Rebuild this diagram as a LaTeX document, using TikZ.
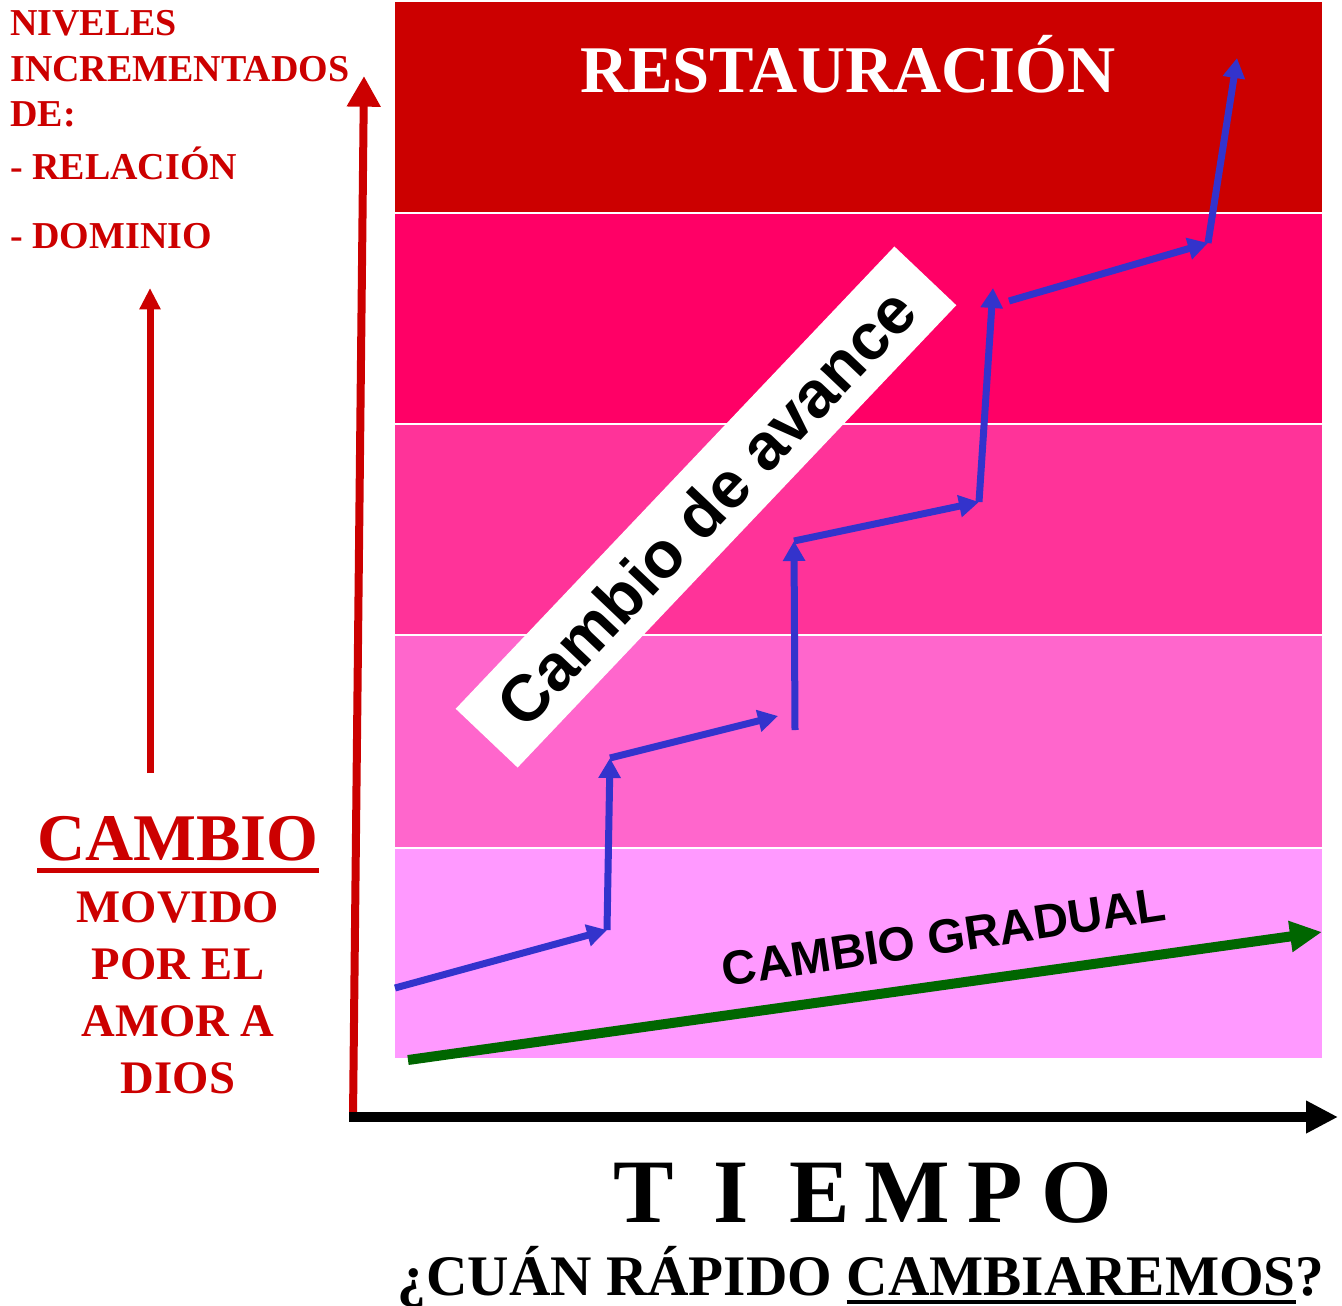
\documentclass[tikz,border=0pt]{standalone}
\usepackage{fontspec}
\setmainfont{Liberation Serif}
\setsansfont{Liberation Sans}
\usepackage{xcolor}
\usetikzlibrary{arrows.meta}

\definecolor{restore}{HTML}{CC0000}
\definecolor{bandtwo}{HTML}{FF0066}
\definecolor{bandthree}{HTML}{FF3399}
\definecolor{bandfour}{HTML}{FF66CC}
\definecolor{bandfive}{HTML}{FF99FF}
\definecolor{leapblue}{HTML}{3333CC}
\definecolor{gradgreen}{HTML}{006600}

\newsavebox{\ulbox}
\newcommand{\thickunder}[3]{\sbox{\ulbox}{#3}\rlap{\rule[-#1]{\wd\ulbox}{#2}}\usebox{\ulbox}}

\tikzstyle{leap} = [leapblue,line width=5.25pt,-{Triangle[length=15pt,width=16pt]}]
\tikzstyle{redlabel} = [text=restore,inner sep=0pt]

\begin{document}
\begin{tikzpicture}[x=0.75pt,y=-0.75pt]
        \useasboundingbox (0,0) rectangle (1342,1306);

        % Level bands
        \foreach \ytop/\ybot/\col in {2/212/restore, 214/423/bandtwo, 425/634/bandthree, 636/847/bandfour, 849/1058/bandfive}
            \fill[\col] (395,\ytop) rectangle (1322,\ybot);

        \node[text=white,
        anchor=base,
        font=\bfseries\fontsize{50}{56}\selectfont] (title) at (848,93) {RESTAURACIÓN};

        % Rotated label
        \node[fill=white,
        rotate=46.5,
        minimum width=478pt,
        minimum height=64pt,
        inner sep=0pt,
        font=\sffamily\bfseries\fontsize{49}{60}\selectfont] (leaplabel) at (706,507) {Cambio de avance};

        % Step points
        \foreach \n/\x/\y in {a/395/988, b/607/930, c/610/758, d/778/716, e/795/730, f/794/541, h/979/502, j/993/288, k/1009/301, l/1208/243, m/1237/58}
            \coordinate (\n) at (\x,\y);

        \foreach \from/\to in {a/b, b/c, c/d, e/f, f/h, h/j, k/l, l/m}
            \draw[leap] (\from) -- (\to);

        % Gradual change
        \coordinate (gstart) at (408,1060);
        \coordinate (gend) at (1322,932);
        \draw[gradgreen,line width=7.5pt,-{Triangle[length=24pt,width=22pt]}] (gstart) -- (gend);
        \node[font=\sffamily\bfseries\fontsize{36}{40}\selectfont,
        rotate=8.5] (gradlabel) at (944,937) {CAMBIO GRADUAL};

        % Axes
        \coordinate (origin) at (353,1117);
        \coordinate (ytip) at (364,76);
        \coordinate (xstart) at (349,1117);
        \coordinate (xtip) at (1338,1117);
        \draw[restore,line width=6pt,-{Triangle[length=23pt,width=24pt]}] (origin) -- (ytip);
        \draw[black,line width=7.5pt,-{Triangle[length=24pt,width=23pt]}] (xstart) -- (xtip);

        % Left side
        \node[redlabel,
        anchor=north west,
        align=left,
        font=\bfseries\fontsize{28.5}{34.3}\selectfont] (levels) at (10,10) {NIVELES\\INCREMENTADOS\\DE:\\[5pt]- RELACIÓN\\[17.5pt]- DOMINIO};

        \coordinate (upfoot) at (150,773);
        \coordinate (uptip) at (150,288);
        \draw[restore,line width=5.25pt,-{Triangle[length=16pt,width=15pt]}] (upfoot) -- (uptip);

        \node[redlabel,
        anchor=base,
        font=\bfseries\fontsize{50}{56}\selectfont] (cambio) at (178,860)
        {\thickunder{9.75pt}{3.75pt}{CAMBIO}};

        \node[redlabel,
        anchor=north,
        align=center,
        font=\bfseries\fontsize{35}{42.75}\selectfont] (moved) at (178,891) {MOVIDO\\POR EL\\AMOR A\\DIOS};

        % Time axis labels
        \node[anchor=base west,
        inner sep=0pt,
        font=\bfseries\fontsize{68}{72}\selectfont] (time) at (613,1222)
        {T\hspace{30pt}I\hspace{30.5pt}E\hspace{11pt}M\hspace{13pt}P\hspace{13.5pt}O};

        \node[anchor=base,
        inner sep=0pt,
        font=\bfseries\fontsize{43}{48}\selectfont] (question) at (861,1295)
        {¿CUÁN RÁPIDO \thickunder{6.75pt}{3pt}{CAMBIAREMOS}?};

\end{tikzpicture}
\end{document}
